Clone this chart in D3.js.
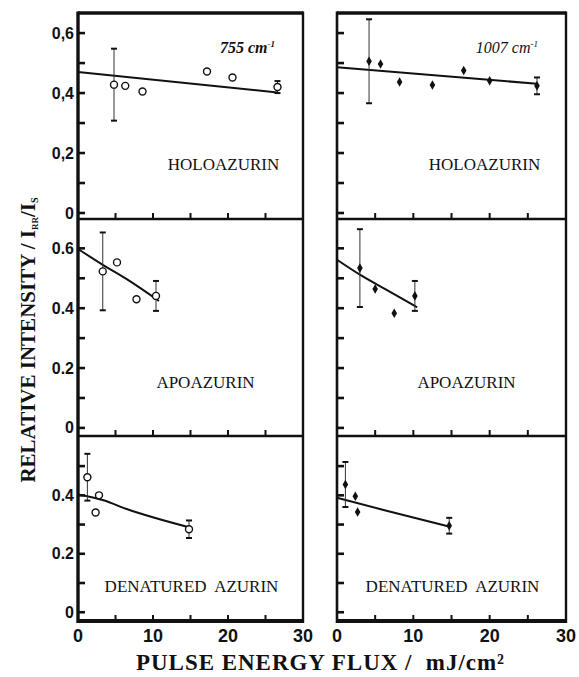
<!DOCTYPE html>
<html>
<head>
<meta charset="utf-8">
<script src="https://cdn.jsdelivr.net/npm/d3@7/dist/d3.min.js"></script>
<style>
  body { margin: 0; background: #fff; }
  text { fill: #111; }
</style>
</head>
<body>
<div id="chart"></div>
<script>
// x ticks / labels shared by both columns
const xLabelTicks = [0, 10, 20, 30];
const xMinorTicks = [5, 10, 15, 20, 25];
const yMinorTicks = [0, 0.1, 0.2, 0.3, 0.4, 0.5, 0.6];
const yLabelTicks = [[0, 0.2, 0.4, 0.6], [0, 0.2, 0.4, 0.6], [0, 0.2, 0.4]];
const rowNames = ['HOLOAZURIN', 'APOAZURIN', 'DENATURED  AZURIN'];
const bandNames = ['755 cm', '1007 cm'];

// series: x = flux (mJ/cm2), y = relative intensity, err = half bar
const holo755 = [
  { x: 4.8, y: 0.428, err: 0.12 }, { x: 6.3, y: 0.424 }, { x: 8.6, y: 0.405 },
  { x: 17.2, y: 0.472 }, { x: 20.6, y: 0.452 }, { x: 26.6, y: 0.42, err: 0.02 },
];
const holo755Fit = [[0, 0.47], [26.6, 0.402]];

const holo1007 = [
  { x: 4.2, y: 0.506, err: 0.14 }, { x: 5.7, y: 0.497 }, { x: 8.2, y: 0.437 },
  { x: 12.5, y: 0.427 }, { x: 16.6, y: 0.475 }, { x: 20.0, y: 0.441 },
  { x: 26.2, y: 0.424, err: 0.028 },
];
const holo1007Fit = [[0, 0.486], [26.2, 0.431]];

const apo755 = [
  { x: 3.3, y: 0.523, err: 0.13 }, { x: 5.2, y: 0.553 }, { x: 7.8, y: 0.43 },
  { x: 10.4, y: 0.441, err: 0.05 },
];
const apo755Fit = [[0, 0.598], [3.3, 0.545], [6.5, 0.497], [10.8, 0.424]];

const apo1007 = [
  { x: 3.0, y: 0.534, err: 0.13 }, { x: 5.0, y: 0.464 }, { x: 7.5, y: 0.383 },
  { x: 10.2, y: 0.441, err: 0.05 },
];
const apo1007Fit = [[0, 0.562], [3, 0.512], [6.5, 0.461], [10.5, 0.403]];

const den755 = [
  { x: 1.25, y: 0.462, err: 0.08 }, { x: 2.8, y: 0.40 }, { x: 2.35, y: 0.341 },
  { x: 14.8, y: 0.284, err: 0.03 },
];
const den755Fit = [[0, 0.403], [3.4, 0.383], [6.5, 0.353], [14.9, 0.29]];

const den1007 = [
  { x: 1.1, y: 0.437, err: 0.077 }, { x: 2.4, y: 0.397 }, { x: 2.7, y: 0.343 },
  { x: 14.7, y: 0.296, err: 0.027 },
];
const den1007Fit = [[0, 0.392], [6.1, 0.35], [14.7, 0.293]];

// layout
const W = 579;
const H = 677;
const cols = [{ x0: 78, x1: 303 }, { x0: 337, x1: 566 }];
const rows = [
  { top: 13, bottom: 219, domain: [-0.02, 0.667], labelDx: 33, labelY: 157 },
  { top: 219, bottom: 436, domain: [-0.027, 0.698], labelDx: 15, labelY: 169 },
  { top: 436, bottom: 621, domain: [-0.03, 0.603], labelDx: 1, labelY: 156 },
];

const panels = [
  { row: 0, col: 0, points: holo755, fit: holo755Fit },
  { row: 0, col: 1, points: holo1007, fit: holo1007Fit },
  { row: 1, col: 0, points: apo755, fit: apo755Fit },
  { row: 1, col: 1, points: apo1007, fit: apo1007Fit },
  { row: 2, col: 0, points: den755, fit: den755Fit },
  { row: 2, col: 1, points: den1007, fit: den1007Fit },
];

const svg = d3.select('#chart').append('svg')
  .attr('width', W)
  .attr('height', H)
  .style('display', 'block');

svg.append('rect').attr('width', W).attr('height', H).attr('fill', '#fff');

const xScales = cols.map(c => d3.scaleLinear().domain([0, 30]).range([c.x0, c.x1]));
const yScales = rows.map(r => d3.scaleLinear().domain(r.domain).range([r.bottom, r.top]));

const ink = '#111';
const sans = '"Liberation Sans", Arial, sans-serif';
const serif = '"Liberation Serif", "Times New Roman", serif';

panels.forEach((p) => {
  const x = xScales[p.col];
  const y = yScales[p.row];
  const r = rows[p.row];
  const c = cols[p.col];
  const g = svg.append('g');

  // y ticks pointing inward from the left axis
  g.selectAll('.ytick')
    .data(yMinorTicks.filter(v => y(v) > r.top + 3 && y(v) < r.bottom - 2))
    .enter().append('line')
    .attr('x1', c.x0).attr('x2', c.x0 + 7)
    .attr('y1', d => y(d)).attr('y2', d => y(d))
    .attr('stroke', ink).attr('stroke-width', 2.6);

  // x ticks pointing up from the bottom edge of the panel
  g.selectAll('.xtick')
    .data(xMinorTicks)
    .enter().append('line')
    .attr('x1', d => x(d)).attr('x2', d => x(d))
    .attr('y1', r.bottom).attr('y2', r.bottom - 6)
    .attr('stroke', ink).attr('stroke-width', 2);

  // fit curve
  g.append('path')
    .datum(p.fit)
    .attr('d', d3.line().x(d => x(d[0])).y(d => y(d[1])).curve(d3.curveMonotoneX))
    .attr('fill', 'none')
    .attr('stroke', ink)
    .attr('stroke-width', 2);

  // error bars
  const withErr = p.points.filter(d => d.err);
  g.selectAll('.err')
    .data(withErr)
    .enter().append('line')
    .attr('x1', d => x(d.x)).attr('x2', d => x(d.x))
    .attr('y1', d => y(d.y + d.err)).attr('y2', d => y(d.y - d.err))
    .attr('stroke', '#333').attr('stroke-width', 1);
  [1, -1].forEach((s) => {
    g.selectAll(null)
      .data(withErr)
      .enter().append('line')
      .attr('x1', d => x(d.x) - 3).attr('x2', d => x(d.x) + 3)
      .attr('y1', d => y(d.y + s * d.err)).attr('y2', d => y(d.y + s * d.err))
      .attr('stroke', ink).attr('stroke-width', 2);
  });

  // markers: open circles (755) and small diamonds (1007)
  if (p.col === 0) {
    g.selectAll('.pt')
      .data(p.points)
      .enter().append('circle')
      .attr('cx', d => x(d.x)).attr('cy', d => y(d.y))
      .attr('r', 3.5)
      .attr('fill', '#fff')
      .attr('stroke', ink)
      .attr('stroke-width', 1.4);
  } else {
    g.selectAll('.pt')
      .data(p.points)
      .enter().append('path')
      .attr('transform', d => `translate(${x(d.x)},${y(d.y)})`)
      .attr('d', 'M0,-4.8L2.8,0L0,4.8L-2.8,0Z')
      .attr('fill', ink);
  }

  // panel name
  g.append('text')
    .attr('x', (c.x0 + c.x1) / 2 + r.labelDx)
    .attr('y', r.top + r.labelY)
    .attr('text-anchor', 'middle')
    .style('white-space', 'pre')
    .attr('font-family', serif)
    .attr('font-size', 17)
    .text(rowNames[p.row]);
});

// frame lines: outer borders and row separators
const frame = svg.append('g').attr('stroke', ink).attr('fill', 'none');
cols.forEach((c, i) => {
  frame.append('line')
    .attr('x1', c.x0).attr('x2', c.x0)
    .attr('y1', rows[0].top - 1.5).attr('y2', rows[2].bottom + 2)
    .attr('stroke-width', i === 0 ? 3.4 : 2.6);
  frame.append('line')
    .attr('x1', c.x1).attr('x2', c.x1)
    .attr('y1', rows[0].top - 1.5).attr('y2', rows[2].bottom + 2)
    .attr('stroke-width', 2.4);
  frame.append('line')
    .attr('x1', c.x0).attr('x2', c.x1)
    .attr('y1', rows[0].top).attr('y2', rows[0].top)
    .attr('stroke-width', 3.4);
  frame.append('line')
    .attr('x1', c.x0).attr('x2', c.x1)
    .attr('y1', rows[2].bottom).attr('y2', rows[2].bottom)
    .attr('stroke-width', 4);
  [rows[0].bottom, rows[1].bottom].forEach((yy) => {
    frame.append('line')
      .attr('x1', c.x0).attr('x2', c.x1)
      .attr('y1', yy).attr('y2', yy)
      .attr('stroke-width', 2.4);
  });
});

// y tick labels (left column only); top row uses decimal commas
rows.forEach((r, i) => {
  const y = yScales[i];
  const fmt = v => (v === 0 ? '0' : d3.format('.1f')(v));
  svg.append('g').selectAll('text')
    .data(yLabelTicks[i])
    .enter().append('text')
    .attr('x', cols[0].x0 - 4)
    .attr('y', d => y(d) + 5.5)
    .attr('text-anchor', 'end')
    .attr('font-family', sans)
    .attr('font-weight', 'bold')
    .attr('font-size', 16)
    .text(d => (i === 0 ? fmt(d).replace('.', ',') : fmt(d)));
});

// x tick labels under each column
xScales.forEach((x) => {
  svg.append('g').selectAll('text')
    .data(xLabelTicks)
    .enter().append('text')
    .attr('x', d => x(d))
    .attr('y', rows[2].bottom + 21)
    .attr('text-anchor', 'middle')
    .attr('font-family', sans)
    .attr('font-weight', 'bold')
    .attr('font-size', 18)
    .text(d => d);
});

// band labels in top panels
bandNames.forEach((name, i) => {
  const t = svg.append('text')
    .attr('x', cols[i].x1 - 28)
    .attr('y', rows[0].top + 40)
    .attr('text-anchor', 'end')
    .attr('font-family', serif)
    .attr('font-style', 'italic')
    .attr('font-weight', i === 0 ? 'bold' : 'normal')
    .attr('font-size', 16)
    .text(name);
  t.append('tspan')
    .attr('dy', -6)
    .attr('font-size', 9)
    .text('-1');
});

// axis titles
svg.append('text')
  .attr('x', 320)
  .attr('y', 670)
  .attr('text-anchor', 'middle')
  .style('white-space', 'pre')
  .attr('font-family', serif)
  .attr('font-weight', 'bold')
  .attr('font-size', 23)
  .attr('textLength', 368)
  .attr('lengthAdjust', 'spacing')
  .text('PULSE ENERGY FLUX /  mJ/cm²');

const yt = svg.append('text')
  .attr('transform', 'translate(35,340) rotate(-90)')
  .attr('text-anchor', 'middle')
  .attr('font-family', serif)
  .attr('font-weight', 'bold')
  .attr('font-size', 21);
yt.append('tspan').text('RELATIVE INTENSITY / I');
yt.append('tspan').attr('font-size', 9).attr('dy', 3).text('RR');
yt.append('tspan').attr('dy', -3).text('/I');
yt.append('tspan').attr('font-size', 10).attr('dy', 3).text('S');
</script>
</body>
</html>
